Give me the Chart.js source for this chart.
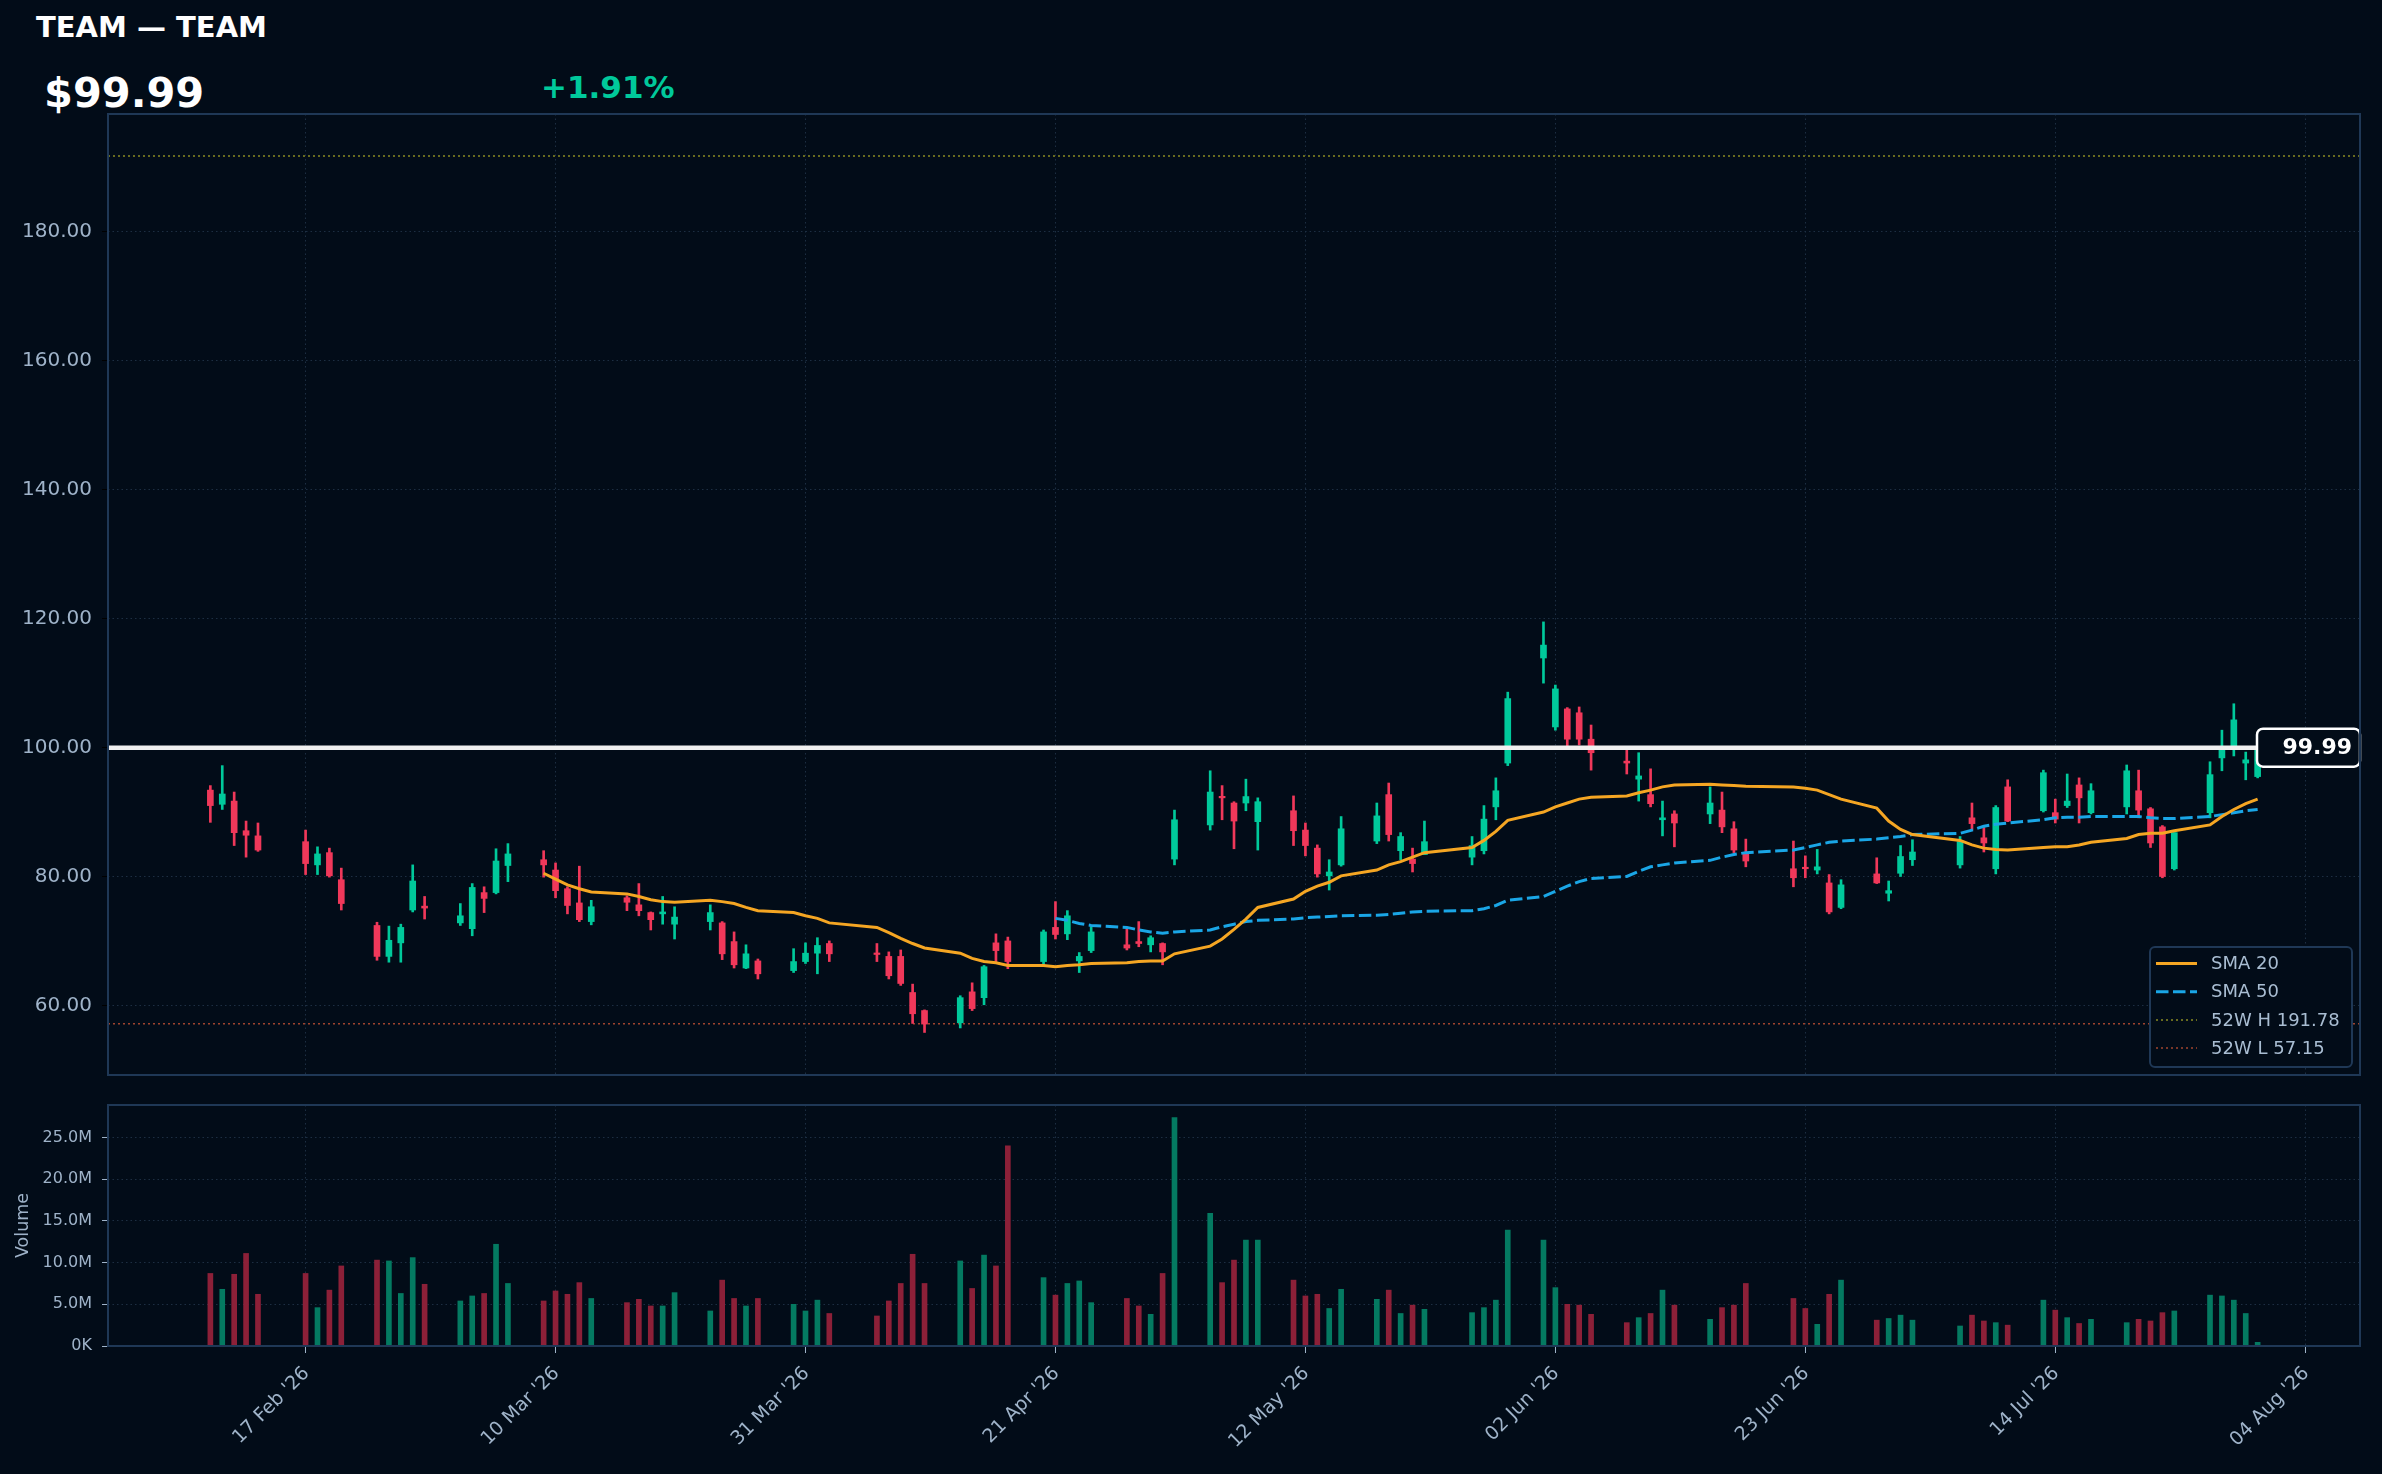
<!DOCTYPE html>
<html>
<head>
<meta charset="utf-8">
<script src="https://cdn.jsdelivr.net/npm/chart.js@4.4.1/dist/chart.umd.min.js"></script>
<style>
  html, body { margin: 0; padding: 0; background: #020c18; }
  body { width: 2382px; height: 1474px; position: relative; overflow: hidden; font-family: "DejaVu Sans", sans-serif; }
  .hdr { position: absolute; font-weight: bold; line-height: 1; white-space: nowrap; }
  #title { left: 36px; top: 13px; font-size: 29px; color: #ffffff; }
  #price { left: 44px; top: 72px; font-size: 41.5px; color: #ffffff; }
  #change { left: 541px; top: 72px; font-size: 31px; color: #00c99b; }
  #priceCanvas { position: absolute; left: 0; top: 0; }
  #volCanvas { position: absolute; left: 0; top: 1090px; }
</style>
</head>
<body>
<div id="title" class="hdr">TEAM — TEAM</div>
<div id="price" class="hdr"></div>
<div id="change" class="hdr"></div>
<canvas id="priceCanvas" width="2382" height="1090"></canvas>
<canvas id="volCanvas" width="2382" height="384"></canvas>
<script>
// trading days
const dates = [
  '2026-02-09','2026-02-10','2026-02-11','2026-02-12','2026-02-13',
  '2026-02-17','2026-02-18','2026-02-19','2026-02-20',
  '2026-02-23','2026-02-24','2026-02-25','2026-02-26','2026-02-27',
  '2026-03-02','2026-03-03','2026-03-04','2026-03-05','2026-03-06',
  '2026-03-09','2026-03-10','2026-03-11','2026-03-12','2026-03-13',
  '2026-03-16','2026-03-17','2026-03-18','2026-03-19','2026-03-20',
  '2026-03-23','2026-03-24','2026-03-25','2026-03-26','2026-03-27',
  '2026-03-30','2026-03-31','2026-04-01','2026-04-02',
  '2026-04-06','2026-04-07','2026-04-08','2026-04-09','2026-04-10',
  '2026-04-13','2026-04-14','2026-04-15','2026-04-16','2026-04-17',
  '2026-04-20','2026-04-21','2026-04-22','2026-04-23','2026-04-24',
  '2026-04-27','2026-04-28','2026-04-29','2026-04-30','2026-05-01',
  '2026-05-04','2026-05-05','2026-05-06','2026-05-07','2026-05-08',
  '2026-05-11','2026-05-12','2026-05-13','2026-05-14','2026-05-15',
  '2026-05-18','2026-05-19','2026-05-20','2026-05-21','2026-05-22',
  '2026-05-26','2026-05-27','2026-05-28','2026-05-29',
  '2026-06-01','2026-06-02','2026-06-03','2026-06-04','2026-06-05',
  '2026-06-08','2026-06-09','2026-06-10','2026-06-11','2026-06-12',
  '2026-06-15','2026-06-16','2026-06-17','2026-06-18',
  '2026-06-22','2026-06-23','2026-06-24','2026-06-25','2026-06-26',
  '2026-06-29','2026-06-30','2026-07-01','2026-07-02',
  '2026-07-06','2026-07-07','2026-07-08','2026-07-09','2026-07-10',
  '2026-07-13','2026-07-14','2026-07-15','2026-07-16','2026-07-17',
  '2026-07-20','2026-07-21','2026-07-22','2026-07-23','2026-07-24',
  '2026-07-27','2026-07-28','2026-07-29','2026-07-30','2026-07-31'
];

const opens = [
  93.4, 91.2, 91.7, 87.1, 86.3, 85.4, 81.8, 83.7, 79.5, 72.4, 67.6, 69.7, 74.8, 75.4,
  72.8, 71.9, 77.5, 77.5, 81.7, 82.6, 81.0, 78.1, 75.9, 73.0, 76.7, 75.6, 74.4, 74.2, 72.6, 73.0, 72.8, 69.9, 65.8, 66.9, 65.4, 66.8,
  68.1, 69.6, 68.1, 67.6, 67.6, 62.0, 59.2, 57.3, 62.1, 61.2, 69.7, 70.0, 66.8, 72.1, 71.1, 66.9, 68.5, 69.4, 69.9, 69.4, 69.6,
  82.7, 88.0, 92.4, 91.4, 91.4, 88.5, 90.2, 87.2, 84.4, 80.1, 81.8, 85.5, 92.7, 84.0, 82.7, 83.4, 83.0, 84.0, 90.8, 97.6,
  113.9, 103.2, 106.0, 105.4, 101.3, 97.9, 95.1, 92.7, 88.8, 89.7, 89.7, 90.3, 87.4, 83.5, 81.2, 81.4, 81.0, 79.0, 75.2, 80.4, 77.4,
  80.5, 82.6, 81.8, 89.1, 86.0, 81.2, 93.9, 90.2, 89.9, 91.0, 94.2, 89.9, 90.8, 93.3, 90.5, 87.7, 81.2, 89.9, 98.4, 100.2, 97.6, 95.5
];
const highs = [
  94.1, 97.2, 93.1, 88.6, 88.3, 87.2, 84.6, 84.4, 81.3, 72.9, 72.3, 72.6, 81.8, 76.9,
  75.8, 78.9, 78.4, 84.3, 85.1, 84.0, 82.1, 78.4, 81.6, 76.3, 77.0, 78.9, 74.5, 76.9, 75.3, 75.6, 73.0, 71.4, 69.4, 67.2, 68.8, 69.7,
  70.5, 70.0, 69.6, 68.3, 68.6, 63.3, 59.3, 61.5, 63.5, 66.2, 71.1, 70.6, 71.7, 76.1, 74.7, 68.2, 72.2, 71.9, 73.0, 70.8, 69.7,
  90.3, 96.4, 94.1, 91.6, 95.1, 92.2, 92.5, 88.3, 84.9, 82.6, 89.3, 91.4, 94.5, 86.8, 84.4, 88.6, 86.2, 91.0, 95.3, 108.6,
  119.5, 109.7, 106.2, 106.3, 103.5, 99.6, 99.2, 96.7, 91.7, 90.2, 93.9, 93.1, 88.5, 85.8, 85.5, 83.2, 84.2, 80.3, 79.5, 82.9, 79.3,
  84.8, 85.7, 86.2, 91.4, 87.6, 91.0, 95.0, 96.5, 92.0, 95.9, 95.3, 94.4, 97.3, 96.5, 90.7, 87.9, 86.8, 97.8, 102.7, 106.8, 99.3, 100.5
];
const lows = [
  88.4, 90.4, 84.8, 83.0, 83.9, 80.3, 80.3, 79.9, 74.8, 67.0, 66.7, 66.7, 74.5, 73.4,
  72.4, 70.8, 74.4, 77.3, 79.2, 79.9, 76.7, 74.2, 73.0, 72.5, 74.7, 73.9, 71.7, 72.6, 70.3, 71.7, 67.1, 65.8, 65.7, 64.1, 65.1, 66.5,
  64.9, 66.8, 66.8, 64.1, 63.1, 57.2, 55.8, 56.5, 59.2, 60.1, 66.8, 65.7, 66.3, 70.3, 70.2, 65.1, 68.2, 68.6, 69.1, 68.3, 66.3,
  81.8, 87.2, 88.8, 84.3, 90.2, 84.1, 84.8, 83.2, 79.9, 77.9, 81.6, 85.1, 85.5, 82.6, 80.7, 83.4, 81.8, 83.5, 88.8, 97.2,
  110.0, 102.7, 100.3, 100.4, 96.5, 95.9, 91.7, 90.8, 86.3, 84.6, 88.2, 86.8, 83.7, 81.5, 78.4, 79.8, 80.4, 74.2, 75.0, 78.9, 76.2,
  80.0, 81.7, 81.3, 87.2, 83.8, 80.4, 88.5, 90.0, 88.3, 90.7, 88.3, 89.7, 89.7, 89.1, 84.5, 79.8, 81.0, 89.1, 96.4, 98.7, 95.0, 95.3
];
const closes = [
  91.0, 92.8, 86.8, 86.4, 84.1, 82.0, 83.5, 80.1, 75.8, 67.6, 70.1, 72.1, 79.3, 75.1,
  73.9, 78.3, 76.6, 82.4, 83.5, 81.8, 77.8, 75.5, 73.3, 75.3, 76.0, 74.7, 73.3, 74.5, 73.7, 74.4, 68.0, 66.3, 68.0, 64.9, 66.8, 68.1,
  69.3, 68.0, 67.9, 64.6, 63.4, 58.7, 57.1, 61.2, 59.5, 66.0, 68.5, 66.8, 71.4, 71.0, 73.9, 67.6, 71.4, 68.9, 69.6, 70.5, 68.3,
  88.8, 93.1, 92.2, 88.6, 92.4, 91.6, 87.1, 84.8, 80.4, 80.7, 87.4, 89.4, 86.5, 86.2, 82.0, 85.4, 84.8, 88.9, 93.3, 107.6,
  115.9, 109.1, 101.3, 101.3, 99.2, 97.6, 95.6, 91.3, 89.1, 88.3, 91.4, 87.7, 84.1, 82.4, 79.8, 81.2, 81.5, 74.5, 78.7, 79.0, 77.8,
  83.1, 83.8, 85.4, 88.2, 85.2, 90.7, 88.6, 96.1, 88.9, 91.7, 92.2, 93.3, 96.4, 90.3, 85.2, 80.0, 86.8, 95.8, 99.6, 104.3, 98.1, 99.99
];
// volume in millions
const volumes = [
  8.7, 6.8, 8.6, 11.1, 6.2, 8.7, 4.6, 6.7, 9.6, 10.3, 10.2, 6.3, 10.6, 7.4,
  5.4, 6.0, 6.3, 12.2, 7.5, 5.4, 6.6, 6.2, 7.6, 5.7, 5.2, 5.6, 4.8, 4.8, 6.4, 4.2, 7.9, 5.7, 4.8, 5.7, 5.0, 4.2,
  5.5, 3.9, 3.6, 5.4, 7.5, 11.0, 7.5, 10.2, 6.9, 10.9, 9.6, 24.0, 8.2, 6.1, 7.5, 7.8, 5.2, 5.7, 4.8, 3.8, 8.7,
  27.4, 15.9, 7.6, 10.3, 12.7, 12.7, 7.9, 6.0, 6.2, 4.5, 6.8, 5.6, 6.7, 3.9, 4.9, 4.4, 4.0, 4.6, 5.5, 13.9,
  12.7, 7.0, 5.0, 4.9, 3.8, 2.8, 3.4, 3.9, 6.7, 4.9, 3.2, 4.6, 4.9, 7.5, 5.7, 4.5, 2.6, 6.2, 7.9, 3.1, 3.3,
  3.7, 3.1, 2.4, 3.7, 3.0, 2.8, 2.5, 5.5, 4.3, 3.4, 2.7, 3.2, 2.8, 3.2, 3.0, 4.0, 4.2, 6.1, 6.0, 5.5, 3.9, 0.44
];

// moving averages as drawn, starting at their first trading day
const sma20Start = '2026-03-09';
const sma20 = [
  80.5, 79.6, 78.7, 78.1, 77.6, 77.3, 76.9, 76.4, 76.1, 76.0, 76.3, 76.1, 75.8, 75.2, 74.7, 74.4, 73.9,
  73.5, 72.8, 72.1, 71.3, 70.4, 69.6, 68.9, 68.1, 67.3, 66.8, 66.6, 66.2, 66.2, 66.0, 66.2, 66.3, 66.5, 66.6, 66.8, 66.9, 66.9,
  68.0, 69.2, 70.3, 71.8, 73.4, 75.2, 76.5, 77.7, 78.5, 79.1, 80.1, 81.0, 81.8, 82.3, 83.0, 83.7, 84.5, 85.6, 87.0, 88.7,
  90.0, 90.8, 91.4, 92.0, 92.3, 92.5, 93.0, 93.4, 93.9, 94.2, 94.3, 94.2, 94.1, 94.0, 93.9, 93.7, 93.4, 92.7, 92.0, 90.6, 88.6,
  87.3, 86.5, 85.6, 84.9, 84.4, 84.2, 84.1, 84.5, 84.6, 84.6, 84.9, 85.3, 85.9, 86.5, 86.7, 86.7, 87.1, 88.0, 89.3, 90.4, 91.3, 92.0
];
const sma50Start = '2026-04-21';
const sma50 = [
  73.5, 73.2, 72.7, 72.4, 72.1, 71.7, 71.4, 71.2,
  71.4, 71.7, 72.2, 72.6, 73.0, 73.2, 73.4, 73.6, 73.7, 73.8, 73.9, 74.0, 74.1, 74.3, 74.5, 74.6, 74.7, 75.0, 75.5, 76.3,
  76.9, 77.7, 78.5, 79.2, 79.7, 80.0, 80.8, 81.5, 81.8, 82.1, 82.5, 83.0, 83.4, 83.7, 84.1, 84.5, 84.9, 85.3, 85.5, 85.8, 86.0,
  86.2, 86.5, 86.7, 87.2, 87.8, 88.1, 88.3, 88.8, 89.1, 89.2, 89.2, 89.3, 89.3, 89.3, 89.1, 89.0, 89.0, 89.3, 89.6, 89.9, 90.2, 90.4
];

const xTickDates = ['2026-02-17', '2026-03-10', '2026-03-31', '2026-04-21', '2026-05-12',
                    '2026-06-02', '2026-06-23', '2026-07-14', '2026-08-04'];
const priceTicks = [60, 80, 100, 120, 140, 160, 180];
const volumeTicks = [0, 5, 10, 15, 20, 25];

const high52w = 191.78;
const low52w = 57.15;
const lastPrice = 99.99;
const changePct = 1.91;
const priceMin = 49.2, priceMax = 198.3;
const volumeMax = 28.9;

// colours
const BG = '#020c18';
const UP = '#00c99b', DOWN = '#f0385a';
const UP_VOL = '#047a61', DOWN_VOL = '#8c2038';
const TEXT = '#9fb3c9';
const GRID = '#1d2e42';
const FRAME = '#1f3856';

document.getElementById('price').textContent = '$' + lastPrice.toFixed(2);
document.getElementById('change').textContent = '+' + changePct.toFixed(2) + '%';

const toDay = s => Date.UTC(+s.slice(0, 4), +s.slice(5, 7) - 1, +s.slice(8, 10)) / 864e5;
const MONTHS = ['Jan','Feb','Mar','Apr','May','Jun','Jul','Aug','Sep','Oct','Nov','Dec'];
const fmtDay = v => {
  const d = new Date(v * 864e5);
  return String(d.getUTCDate()).padStart(2, '0') + ' ' + MONTHS[d.getUTCMonth()] + " '" + String(d.getUTCFullYear()).slice(2);
};

const days = dates.map(toDay);
const margin = (days[days.length - 1] - days[0]) * 0.05;
const xMin = days[0] - margin;
const xMax = days[days.length - 1] + margin;
const tickDays = xTickDates.map(toDay);
const isUp = i => closes[i] >= opens[i];

const sma20Points = sma20.map((v, i) => ({ x: days[dates.indexOf(sma20Start) + i], y: v }));
const sma50Points = sma50.map((v, i) => ({ x: days[dates.indexOf(sma50Start) + i], y: v }));

Chart.defaults.font.family = '"DejaVu Sans", sans-serif';
Chart.defaults.color = TEXT;

const xScaleBase = {
  type: 'linear',
  min: xMin,
  max: xMax,
  offset: false,
  afterBuildTicks: s => { s.ticks = tickDays.map(v => ({ value: v })); },
  ticks: { display: false },
  border: { display: false, dash: [1.5, 3] }
};

// fixed axis width, no extra label padding eating into the plot
const fixY = s => { s.width = 108; s.paddingTop = 0; s.paddingBottom = 0; };

// frame around plot area
const framePlugin = {
  id: 'frame',
  afterDatasetsDraw(chart) {
    const { ctx, chartArea: a } = chart;
    ctx.save();
    ctx.strokeStyle = FRAME;
    ctx.lineWidth = 2;
    ctx.strokeRect(a.left, a.top, a.right - a.left, a.bottom - a.top);
    ctx.restore();
  }
};

// 52 week lines, current price line, price tag and legend
const pricePlugin = {
  id: 'priceExtras',
  beforeDatasetsDraw(chart) {
    const { ctx, chartArea: a, scales: { y } } = chart;
    ctx.save();
    ctx.lineWidth = 1.5;
    ctx.setLineDash([2, 3]);
    [[high52w, '#8a8a22'], [low52w, '#a0442e']].forEach(([v, c]) => {
      const py = y.getPixelForValue(v);
      ctx.strokeStyle = c;
      ctx.beginPath();
      ctx.moveTo(a.left, py);
      ctx.lineTo(a.right, py);
      ctx.stroke();
    });
    ctx.restore();
  },
  afterDatasetsDraw(chart) {
    const { ctx, chartArea: a, scales: { y } } = chart;
    const py = y.getPixelForValue(lastPrice);
    ctx.save();
    ctx.strokeStyle = '#f0f0f0';
    ctx.lineWidth = 4.5;
    ctx.beginPath();
    ctx.moveTo(a.left, py);
    ctx.lineTo(a.right, py);
    ctx.stroke();

    // price tag
    const tw = 103, th = 38;
    ctx.beginPath();
    ctx.roundRect(a.right - tw, py - th / 2, tw, th, 6);
    ctx.fillStyle = BG;
    ctx.fill();
    ctx.lineWidth = 2.5;
    ctx.strokeStyle = '#ffffff';
    ctx.stroke();
    ctx.fillStyle = '#ffffff';
    ctx.font = 'bold 22px "DejaVu Sans"';
    ctx.textAlign = 'right';
    ctx.textBaseline = 'middle';
    ctx.fillText(lastPrice.toFixed(2), a.right - 8, py + 1);

    // legend
    const lw = 202, lh = 120;
    const lx = a.right - 8 - lw, ly = a.bottom - 8 - lh;
    ctx.beginPath();
    ctx.roundRect(lx, ly, lw, lh, 5);
    ctx.fillStyle = BG;
    ctx.fill();
    ctx.lineWidth = 2;
    ctx.strokeStyle = FRAME;
    ctx.stroke();
    const items = [
      { label: 'SMA 20', color: '#f5a623', dash: [], width: 3 },
      { label: 'SMA 50', color: '#1aa6e6', dash: [12.5, 4.5], width: 3 },
      { label: '52W H ' + high52w.toFixed(2), color: '#8a8a22', dash: [2, 3], width: 1.5 },
      { label: '52W L ' + low52w.toFixed(2), color: '#a0442e', dash: [2, 3], width: 1.5 }
    ];
    ctx.font = '18px "DejaVu Sans"';
    ctx.textAlign = 'left';
    items.forEach((it, i) => {
      const iy = ly + 16.5 + i * 28.2;
      ctx.setLineDash(it.dash);
      ctx.strokeStyle = it.color;
      ctx.lineWidth = it.width;
      ctx.beginPath();
      ctx.moveTo(lx + 6, iy);
      ctx.lineTo(lx + 47, iy);
      ctx.stroke();
      ctx.setLineDash([]);
      ctx.fillStyle = '#a9bdd2';
      ctx.fillText(it.label, lx + 61, iy + 1);
    });
    ctx.restore();
  }
};

new Chart(document.getElementById('priceCanvas'), {
  type: 'bar',
  data: {
    datasets: [
      {
        type: 'line', label: 'SMA 20', data: sma20Points, order: 0,
        borderColor: '#f5a623', borderWidth: 3, pointRadius: 0, tension: 0
      },
      {
        type: 'line', label: 'SMA 50', data: sma50Points, order: 0,
        borderColor: '#1aa6e6', borderWidth: 3, borderDash: [12.5, 4.5], pointRadius: 0, tension: 0
      },
      {
        type: 'bar', label: 'body', order: 1, grouped: false,
        data: days.map((d, i) => ({ x: d, y: [opens[i], closes[i]] })),
        backgroundColor: c => isUp(c.dataIndex) ? UP : DOWN,
        barThickness: 6, minBarLength: 1.5, borderWidth: 0
      },
      {
        type: 'bar', label: 'wick', order: 2, grouped: false,
        data: days.map((d, i) => ({ x: d, y: [lows[i], highs[i]] })),
        backgroundColor: c => isUp(c.dataIndex) ? UP : DOWN,
        barThickness: 2, borderWidth: 0
      }
    ]
  },
  options: {
    responsive: false,
    animation: false,
    layout: { autoPadding: false, padding: { top: 114, right: 22, bottom: 15, left: 0 } },
    plugins: { legend: { display: false }, tooltip: { enabled: false } },
    scales: {
      x: {
        ...xScaleBase,
        grid: { color: GRID, drawTicks: false, offset: false },
        afterFit: s => { s.height = 0; }
      },
      y: {
        min: priceMin,
        max: priceMax,
        afterBuildTicks: s => { s.ticks = priceTicks.map(v => ({ value: v })); },
        ticks: { callback: v => v.toFixed(2), color: TEXT, font: { size: 20 }, padding: 10 },
        grid: { color: GRID, tickColor: '#000000', tickLength: 6 },
        border: { display: false, dash: [1.5, 3] },
        afterFit: fixY
      }
    }
  },
  plugins: [pricePlugin, framePlugin]
});

// rotated date labels under the volume panel
const xLabelPlugin = {
  id: 'xLabels',
  afterDraw(chart) {
    const { ctx, chartArea: a, scales: { x } } = chart;
    ctx.save();
    ctx.font = '19px "DejaVu Sans"';
    ctx.fillStyle = TEXT;
    ctx.textAlign = 'right';
    ctx.textBaseline = 'alphabetic';
    x.ticks.forEach(t => {
      const px = x.getPixelForValue(t.value);
      ctx.save();
      ctx.translate(px + 4.5, a.bottom + 28);
      ctx.rotate(-Math.PI / 4);
      ctx.fillText(fmtDay(t.value), 0, 0);
      ctx.restore();
    });
    ctx.restore();
  }
};

new Chart(document.getElementById('volCanvas'), {
  type: 'bar',
  data: {
    datasets: [{
      label: 'Volume',
      data: days.map((d, i) => ({ x: d, y: volumes[i] })),
      backgroundColor: c => isUp(c.dataIndex) ? UP_VOL : DOWN_VOL,
      barThickness: 5,
      borderWidth: 0
    }]
  },
  options: {
    responsive: false,
    animation: false,
    layout: { autoPadding: false, padding: { top: 15, right: 22, bottom: 0, left: 0 } },
    plugins: { legend: { display: false }, tooltip: { enabled: false } },
    scales: {
      x: {
        ...xScaleBase,
        grid: { color: GRID, tickColor: TEXT, tickLength: 7, offset: false },
        afterFit: s => { s.height = 128; }
      },
      y: {
        min: 0,
        max: volumeMax,
        afterBuildTicks: s => { s.ticks = volumeTicks.map(v => ({ value: v })); },
        ticks: {
          callback: v => v === 0 ? '0K' : v.toFixed(1) + 'M',
          color: TEXT, font: { size: 16 }, padding: 10
        },
        title: { display: true, text: 'Volume', color: TEXT, font: { size: 17.5 }, padding: { top: 12.5, bottom: 0 } },
        grid: { color: GRID, tickColor: TEXT, tickLength: 6 },
        border: { display: false, dash: [1.5, 3] },
        afterFit: fixY
      }
    }
  },
  plugins: [framePlugin, xLabelPlugin]
});
</script>
</body>
</html>
